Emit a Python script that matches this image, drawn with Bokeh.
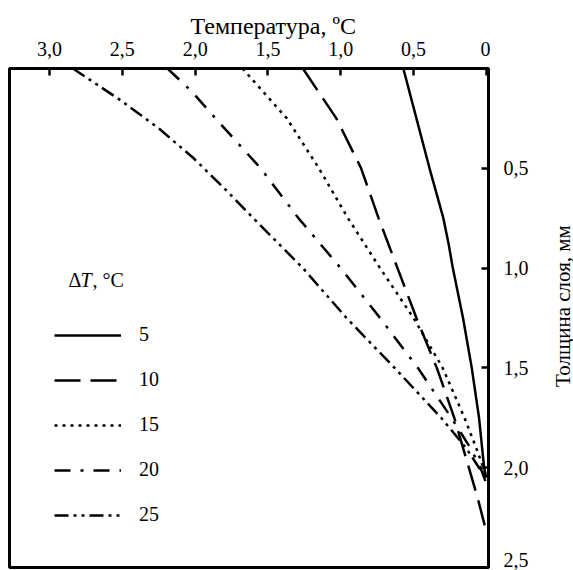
import math
from bokeh.plotting import figure
from bokeh.layouts import row
from bokeh.models import Range1d, FixedTicker, Legend, LegendItem, Label, Title
from bokeh.core.properties import value
from bokeh.embed import file_html
from bokeh.resources import INLINE

# depth (mm) and temperature (°C) for each ΔT series
depth_5 = [0, 0.25, 0.5, 0.75, 0.875, 1.0, 1.25, 1.5, 1.75, 2.0, 2.05]
temp_5 = [0.57, 0.48, 0.39, 0.295, 0.26, 0.23, 0.16, 0.10, 0.05, 0.015, 0.0]

depth_10 = [0, 0.25, 0.5, 0.75, 1.0, 1.25, 1.5, 1.75, 2.0, 2.15, 2.32]
temp_10 = [1.26, 1.03, 0.86, 0.74, 0.61, 0.48, 0.34, 0.22, 0.12, 0.06, 0.0]

depth_15 = [0, 0.25, 0.5, 0.75, 1.0, 1.25, 1.5, 1.75, 1.9, 2.0, 2.05]
temp_15 = [1.675, 1.37, 1.15, 0.95, 0.73, 0.50, 0.30, 0.15, 0.07, 0.02, 0.0]

depth_20 = [0, 0.11, 0.25, 0.5, 0.75, 1.0, 1.25, 1.5, 1.75, 1.9, 2.0, 2.08]
temp_20 = [2.19, 2.03, 1.86, 1.55, 1.29, 1.00, 0.73, 0.47, 0.24, 0.11, 0.04, 0.0]

depth_25 = [0, 0.15, 0.3, 0.45, 0.6, 0.75, 1.0, 1.25, 1.5, 1.75, 1.9, 2.0, 2.05]
temp_25 = [2.84, 2.53, 2.25, 2.01, 1.80, 1.60, 1.26, 0.96, 0.63, 0.31, 0.14, 0.05, 0.0]

series_names = ["5", "10", "15", "20", "25"]
x_ticks = [0, 0.5, 1.0, 1.5, 2.0, 2.5, 3.0]
x_tick_labels = ["0", "0,5", "1,0", "1,5", "2,0", "2,5", "3,0"]
y_ticks = [0.5, 1.0, 1.5, 2.0, 2.5]
y_tick_labels = ["0,5", "1,0", "1,5", "2,0", "2,5"]
x_title = "Температура, ºC"
y_title = "Толщина слоя, мм"

FONT = "'Liberation Serif', serif"
Y_MAX = 2.5
FRAME_H = 499
PX_PER_MM = FRAME_H / Y_MAX

# ---------------- main plot ----------------
p = figure(frame_width=479, frame_height=FRAME_H,
           x_range=Range1d(3.275, -0.015), y_range=Range1d(Y_MAX, 0),
           x_axis_location="above", y_axis_location="right",
           output_backend="svg", toolbar_location=None,
           min_border_left=9, min_border_bottom=3, min_border_top=68, min_border_right=2)

p.xgrid.visible = False
p.ygrid.visible = False
p.outline_line_color = "black"
p.outline_line_width = 3
p.background_fill_color = "white"
p.border_fill_color = "white"

xa = p.xaxis[0]
xa.ticker = FixedTicker(ticks=x_ticks)
xa.major_label_overrides = {t: l for t, l in zip(x_ticks, x_tick_labels)}
ya = p.yaxis[0]
ya.ticker = FixedTicker(ticks=y_ticks)
ya.major_label_overrides = {t: "" for t in y_ticks}   # labels drawn in the side panel
ya.major_label_standoff = 0

for ax in (xa, ya):
    ax.axis_line_color = None
    ax.major_tick_in = 7
    ax.major_tick_out = 0
    ax.major_tick_line_width = 2.5
    ax.major_tick_line_color = "black"
    ax.minor_tick_line_color = None
    ax.major_label_text_font = FONT
    ax.major_label_text_font_size = "20px"
    ax.major_label_text_color = "black"

xa.major_label_standoff = 13

p.add_layout(Title(text=x_title, align="left", offset=181,
                   text_font=FONT, text_font_size="24px", text_font_style="normal",
                   text_color="black", standoff=0), "above")

lw = 2.5
r5 = p.line(temp_5, depth_5, line_color="black", line_width=lw)
r10 = p.line(temp_10, depth_10, line_color="black", line_width=lw, line_dash="26 10")
r15 = p.line(temp_15, depth_15, line_color="black", line_width=lw, line_dash="3 5")
r20 = p.line(temp_20, depth_20, line_color="black", line_width=lw, line_dash="16 10 3 10")
r25 = p.line(temp_25, depth_25, line_color="black", line_width=lw, line_dash="14 5 3 5 3 5")

renderers = [r5, r10, r15, r20, r25]
legend = Legend(items=[LegendItem(label=n, renderers=[r]) for n, r in zip(series_names, renderers)],
                location=(45, 41), orientation="vertical",
                glyph_width=67, glyph_height=20, label_height=20, spacing=22,
                label_standoff=18, padding=0, margin=0,
                border_line_color=None, background_fill_alpha=0,
                label_text_font=FONT, label_text_font_size="20px",
                label_text_color="black")
p.add_layout(legend, "center")

# legend heading: ΔT, °C  (T in italics)
title_y = 288
for txt, xs, style in [("Δ", 59, "normal"), ("T", 71, "italic"), (", °C", 83, "normal")]:
    p.add_layout(Label(x=xs, y=title_y, x_units="screen", y_units="screen", text=txt,
                       text_font=FONT, text_font_size="20px", text_font_style=style,
                       text_color="black", text_baseline="middle", text_align="left"))

# ---------------- right side panel: y tick labels and y title ----------------
SIDE_W = 83
extra = 3 / PX_PER_MM
s = figure(width=SIDE_W, frame_height=FRAME_H + 3,
           x_range=Range1d(0, SIDE_W), y_range=Range1d(Y_MAX + extra, 0),
           output_backend="svg", toolbar_location=None,
           min_border_left=0, min_border_right=0, min_border_top=68, min_border_bottom=0)
s.axis.visible = False
s.xgrid.visible = False
s.ygrid.visible = False
s.outline_line_color = None
s.background_fill_color = "white"
s.border_fill_color = "white"

label_x = 13
s.text(x=[label_x] * (len(y_ticks) - 1), y=y_ticks[:-1], text=y_tick_labels[:-1],
       text_font=value(FONT), text_font_size="20px", text_color="black",
       text_baseline="middle", text_align="left")
# the bottom label sits just above its tick in the reference
s.text(x=[label_x], y=y_ticks[-1:], text=y_tick_labels[-1:], y_offset=-8,
       text_font=value(FONT), text_font_size="20px", text_color="black",
       text_baseline="middle", text_align="left")
s.text(x=[72], y=[1.19], text=[y_title], angle=math.pi / 2,
       text_font=value(FONT), text_font_size="21px", text_color="black",
       text_baseline="middle", text_align="center")

layout = row(p, s, spacing=0)
open("out.html", "w").write(file_html(layout, INLINE))
